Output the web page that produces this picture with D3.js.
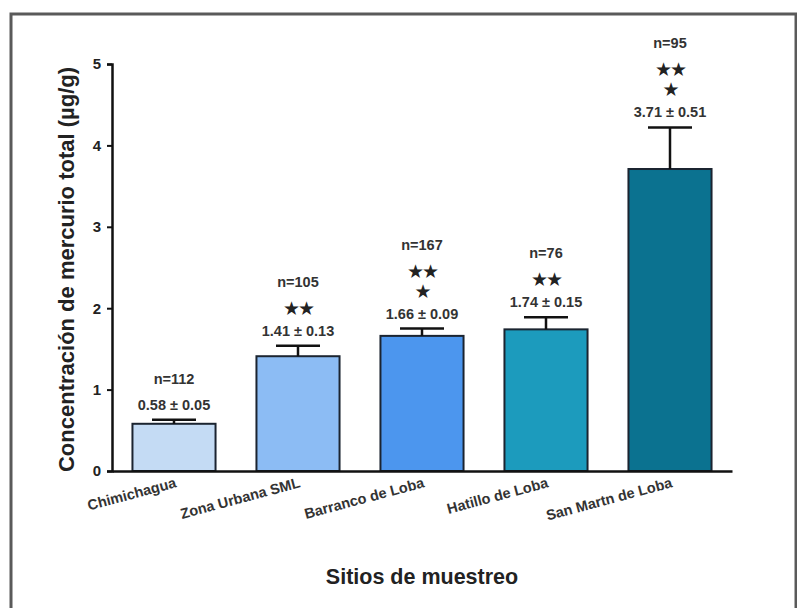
<!DOCTYPE html>
<html>
<head>
<meta charset="utf-8">
<script src="https://cdn.jsdelivr.net/npm/d3@7"></script>
<style>
  html, body { margin: 0; padding: 0; background: #fff; }
  svg { display: block; font-family: "Liberation Sans", Arial, sans-serif; }
</style>
</head>
<body>
<svg id="chart" width="797" height="608"></svg>
<script>
// Mercury concentration by sampling site (mean ± SEM)
const sites = ["Chimichagua", "Zona Urbana SML", "Barranco de Loba", "Hatillo de Loba", "San Martn de Loba"];
const means = [0.58, 1.41, 1.66, 1.74, 3.71];
const sems = [0.05, 0.13, 0.09, 0.15, 0.51];
const nCounts = [112, 105, 167, 76, 95];
const significance = [[], ["★★"], ["★★", "★"], ["★★"], ["★★", "★"]];
const barColors = ["#c4dbf4", "#8cbcf4", "#4c96ee", "#1c9bbd", "#0b7290"];
const yTicks = [0, 1, 2, 3, 4, 5];

const svg = d3.select("#chart");

// outer frame
svg.append("rect")
  .attr("x", 11).attr("y", 14)
  .attr("width", 785).attr("height", 640)
  .attr("fill", "none")
  .attr("stroke", "#5a5a5a")
  .attr("stroke-width", 3);

const x0 = 112, x1 = 732, yTop = 64, yBottom = 471;

const x = d3.scaleBand()
  .domain(sites)
  .range([x0, x1])
  .paddingInner(0.33)
  .paddingOuter(0.165);

const y = d3.scaleLinear().domain([0, 5]).range([yBottom, yTop]);

// bars
svg.append("g").selectAll("rect")
  .data(sites)
  .join("rect")
  .attr("x", d => x(d))
  .attr("width", x.bandwidth())
  .attr("y", (d, i) => y(means[i]))
  .attr("height", (d, i) => y(0) - y(means[i]))
  .attr("fill", (d, i) => barColors[i])
  .attr("stroke", "#1b2430")
  .attr("stroke-width", 2);

// error bars (upper half only)
const capW = 44;
const err = svg.append("g").attr("stroke", "#111").attr("stroke-width", 2.5);
sites.forEach((s, i) => {
  const cx = x(s) + x.bandwidth() / 2;
  err.append("line")
    .attr("x1", cx).attr("x2", cx)
    .attr("y1", y(means[i])).attr("y2", y(means[i] + sems[i]));
  err.append("line")
    .attr("x1", cx - capW / 2).attr("x2", cx + capW / 2)
    .attr("y1", y(means[i] + sems[i])).attr("y2", y(means[i] + sems[i]));
});

// annotations above each bar: mean ± SEM, significance marks, sample size
const ann = svg.append("g").attr("text-anchor", "middle").attr("font-weight", "bold");
sites.forEach((s, i) => {
  const cx = x(s) + x.bandwidth() / 2;
  let yy = y(means[i] + sems[i]) - 15;
  ann.append("text")
    .attr("x", cx).attr("y", yy)
    .attr("dominant-baseline", "central")
    .attr("font-size", 14.5)
    .attr("fill", "#333")
    .text(d3.format(".2f")(means[i]) + " \u00b1 " + d3.format(".2f")(sems[i]));
  const rows = significance[i].slice().reverse();
  rows.forEach((r, k) => {
    yy -= (k === 0 ? 23 : 20);
    ann.append("text")
      .attr("x", cx).attr("y", yy)
      .attr("dominant-baseline", "central")
      .attr("font-family", "DejaVu Sans, sans-serif")
      .attr("font-size", 19)
      .attr("fill", "#222")
      .attr("letter-spacing", -2)
      .text(r);
  });
  yy -= 26;
  ann.append("text")
    .attr("x", cx).attr("y", yy)
    .attr("dominant-baseline", "central")
    .attr("font-size", 14.5)
    .attr("fill", "#333")
    .text("n=" + nCounts[i]);
});

// y axis
const yAxis = svg.append("g")
  .attr("transform", `translate(${x0},0)`)
  .call(d3.axisLeft(y).tickValues(yTicks).tickSize(5).tickPadding(6).tickFormat(d3.format("d")));
yAxis.select(".domain").attr("stroke", "#111").attr("stroke-width", 2.5);
yAxis.selectAll(".tick line").attr("stroke", "#111").attr("stroke-width", 2);
yAxis.selectAll(".tick text")
  .attr("font-size", 15).attr("font-weight", "bold").attr("fill", "#222")
  .attr("font-family", "Liberation Sans, Arial, sans-serif");

// x axis
const xAxis = svg.append("g")
  .attr("transform", `translate(0,${yBottom})`)
  .call(d3.axisBottom(x).tickSize(0).tickFormat(""));
xAxis.select(".domain").attr("stroke", "#111").attr("stroke-width", 2.5);

// rotated category labels
svg.append("g").selectAll("text")
  .data(sites)
  .join("text")
  .attr("transform", d => `translate(${x(d) + x.bandwidth() / 2 + 3},${yBottom + 16}) rotate(-15)`)
  .attr("text-anchor", "end")
  .attr("font-size", 14.5)
  .attr("font-weight", "bold")
  .attr("fill", "#333")
  .text(d => d);

// axis titles
svg.append("text")
  .attr("transform", `translate(66,${(yTop + yBottom) / 2 + 2}) rotate(-90)`)
  .attr("text-anchor", "middle")
  .attr("dominant-baseline", "central")
  .attr("font-size", 22)
  .attr("font-weight", "bold")
  .attr("fill", "#222")
  .text("Concentración de mercurio total (µg/g)");

svg.append("text")
  .attr("x", 422).attr("y", 577)
  .attr("text-anchor", "middle")
  .attr("dominant-baseline", "central")
  .attr("font-size", 21.5)
  .attr("font-weight", "bold")
  .attr("fill", "#222")
  .text("Sitios de muestreo");
</script>
</body>
</html>
